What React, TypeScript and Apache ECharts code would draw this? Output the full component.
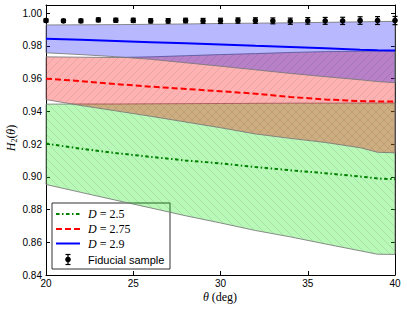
import React, { useEffect, useRef } from 'react';
import * as echarts from 'echarts';

// theta grid (deg) for the model curves
const thetaGrid = [20, 22, 24, 26, 28, 30, 32, 34, 36, 38, 39, 40];

// D = 2.9 (blue)
const blueUpper = [0.9928, 0.9929, 0.993, 0.9932, 0.9934, 0.9937, 0.9939, 0.9941, 0.9944, 0.9947, 0.9949, 0.995];
const blueMid = [0.9843, 0.9837, 0.983, 0.9823, 0.9816, 0.9809, 0.9801, 0.9794, 0.9786, 0.9776, 0.9773, 0.9772];
const blueLower = [0.9758, 0.9747, 0.9734, 0.9718, 0.9697, 0.9676, 0.9654, 0.9632, 0.9612, 0.9593, 0.9582, 0.9575];

// D = 2.75 (red)
const redUpper = [0.9733, 0.9731, 0.9729, 0.9733, 0.974, 0.9747, 0.9753, 0.976, 0.9765, 0.9767, 0.9768, 0.9768];
const redMid = [0.96, 0.9585, 0.9567, 0.9551, 0.9537, 0.9523, 0.9508, 0.9488, 0.9473, 0.9463, 0.9461, 0.946];
const redLower = [0.9472, 0.9436, 0.9403, 0.937, 0.9335, 0.93, 0.9262, 0.9235, 0.921, 0.9178, 0.915, 0.9147];

// D = 2.5 (green)
const greenUpper = [0.9444, 0.9445, 0.9445, 0.9446, 0.9447, 0.9448, 0.9449, 0.945, 0.945, 0.9451, 0.9451, 0.9451];
const greenMid = [0.9203, 0.9172, 0.9145, 0.9122, 0.91, 0.9082, 0.906, 0.904, 0.9022, 0.9002, 0.899, 0.8985];
const greenLower = [0.8953, 0.8905, 0.8857, 0.881, 0.8762, 0.8718, 0.8672, 0.8633, 0.859, 0.8548, 0.8527, 0.8526];

// Fiducial sample
const fidTheta = [20, 21, 22, 23, 24, 25, 26, 27, 28, 29, 30, 31, 32, 33, 34, 35, 36, 37, 38, 39, 40];
const fidH = [0.9955, 0.9953, 0.9953, 0.9959, 0.9957, 0.9956, 0.9953, 0.9953, 0.9955, 0.9953, 0.9953, 0.9955, 0.9955, 0.9953, 0.9951, 0.9953, 0.9953, 0.9953, 0.9955, 0.9955, 0.9955];
const fidErr = [0.001, 0.001, 0.0011, 0.0012, 0.0012, 0.0013, 0.0013, 0.0014, 0.0014, 0.0015, 0.0016, 0.0016, 0.0017, 0.0018, 0.0019, 0.002, 0.0021, 0.0022, 0.0023, 0.0024, 0.0025];

const legendLabels = ['2.5', '2.75', '2.9'];

const MATH = 'Liberation Serif';
const SANS = 'Liberation Sans';

function hatchPattern(fill: string, dirs: string[]) {
  const s = 8;
  const c = document.createElement('canvas');
  c.width = s;
  c.height = s;
  const ctx = c.getContext('2d')!;
  ctx.fillStyle = fill;
  ctx.fillRect(0, 0, s, s);
  ctx.strokeStyle = 'rgba(60,60,60,0.16)';
  ctx.lineWidth = 0.8;
  for (const d of dirs) {
    ctx.beginPath();
    for (const o of [-s, 0, s]) {
      if (d === '/') {
        ctx.moveTo(o, s);
        ctx.lineTo(o + s, 0);
      } else {
        ctx.moveTo(o, 0);
        ctx.lineTo(o + s, s);
      }
    }
    ctx.stroke();
  }
  return { image: c.toDataURL(), repeat: 'repeat', imageWidth: s, imageHeight: s };
}

function bandSeries(lower: number[], upper: number[], fill: any) {
  return {
    type: 'custom',
    coordinateSystem: 'cartesian2d',
    silent: true,
    z: 1,
    data: [[thetaGrid[0], lower[0]]],
    renderItem: (_p: any, api: any) => {
      const pts: number[][] = [];
      thetaGrid.forEach((x, i) => pts.push(api.coord([x, upper[i]])));
      for (let i = thetaGrid.length - 1; i >= 0; i--) pts.push(api.coord([thetaGrid[i], lower[i]]));
      return {
        type: 'polygon',
        shape: { points: pts },
        style: { fill, stroke: 'rgba(120,120,120,0.85)', lineWidth: 1 },
      };
    },
  };
}

function lineSeries(vals: number[], color: string, dash: any) {
  return {
    type: 'line',
    data: thetaGrid.map((x, i) => [x, vals[i]]),
    showSymbol: false,
    silent: true,
    z: 3,
    lineStyle: { color, width: 2, type: dash },
  };
}

export default function App() {
  const ref = useRef<HTMLDivElement>(null);
  useEffect(() => {
    if (!ref.current) return;
    const chart = echarts.init(ref.current, null, { renderer: 'svg' });
    const axisCommon = {
      type: 'value',
      axisLine: { onZero: false, lineStyle: { color: '#000', width: 1 } },
      axisTick: { inside: true, length: 4, lineStyle: { color: '#000', width: 1 } },
      splitLine: { show: false },
    };
    const richMath = {
      i: { fontFamily: MATH, fontStyle: 'italic', fontSize: 12, color: '#000' },
      n: { fontFamily: MATH, fontSize: 12, color: '#000' },
    };
    const legendX = 52, legendY = 203;
    const rowsY = [214, 229, 243.5, 259.5];
    const lineStyles = [
      { stroke: '#008000', lineDash: [3.5, 2.5, 1.5, 2.5] },
      { stroke: '#ff0000', lineDash: [6, 3] },
      { stroke: '#0000ff', lineDash: null },
    ];
    const legendChildren: any[] = [
      {
        type: 'rect',
        shape: { x: legendX, y: legendY, width: 118, height: 66 },
        style: { fill: '#fff', stroke: '#333', lineWidth: 1 },
      },
    ];
    legendLabels.forEach((lab, i) => {
      legendChildren.push({
        type: 'line',
        shape: { x1: 56, y1: rowsY[i], x2: 80, y2: rowsY[i] },
        style: { stroke: lineStyles[i].stroke, lineWidth: 2, lineDash: lineStyles[i].lineDash },
      });
      legendChildren.push({
        type: 'text',
        x: 88,
        y: rowsY[i],
        style: {
          text: '{i|D}{n| = ' + lab + '}',
          rich: richMath,
          verticalAlign: 'middle',
          align: 'left',
        },
      });
    });
    const ey = rowsY[3];
    legendChildren.push(
      { type: 'line', shape: { x1: 68, y1: ey - 5, x2: 68, y2: ey + 5 }, style: { stroke: '#000', lineWidth: 1.2 } },
      { type: 'line', shape: { x1: 65.5, y1: ey - 5, x2: 70.5, y2: ey - 5 }, style: { stroke: '#000', lineWidth: 1.2 } },
      { type: 'line', shape: { x1: 65.5, y1: ey + 5, x2: 70.5, y2: ey + 5 }, style: { stroke: '#000', lineWidth: 1.2 } },
      { type: 'circle', shape: { cx: 68, cy: ey, r: 2.8 }, style: { fill: '#000' } },
      {
        type: 'text',
        x: 88,
        y: ey,
        style: { text: 'Fiducial sample', fontFamily: SANS, fontSize: 11, fill: '#000', verticalAlign: 'middle', align: 'left' },
      }
    );

    const option: any = {
      animation: false,
      backgroundColor: '#fff',
      grid: { left: 46, right: 12, top: 5, bottom: 36, containLabel: false },
      xAxis: [
        {
          ...axisCommon,
          min: 20,
          max: 40,
          interval: 5,
          position: 'bottom',
          axisLabel: { color: '#000', fontSize: 10, fontFamily: SANS, margin: 3 },
        },
        {
          ...axisCommon,
          min: 20,
          max: 40,
          interval: 5,
          position: 'top',
          axisLabel: { show: false },
        },
      ],
      yAxis: [
        {
          ...axisCommon,
          min: 0.84,
          max: 1.005,
          interval: 0.02,
          position: 'left',
          axisLabel: {
            color: '#000',
            fontSize: 10,
            fontFamily: SANS,
            margin: 4,
            formatter: (v: number) => (Math.abs(v * 50 - Math.round(v * 50)) < 1e-6 ? v.toFixed(2) : ''),
          },
        },
        {
          ...axisCommon,
          min: 0.84,
          max: 1.005,
          interval: 0.02,
          position: 'right',
          axisLabel: { show: false },
        },
      ],
      series: [
        bandSeries(greenLower, greenUpper, hatchPattern('rgba(0,235,0,0.28)', ['\\'])),
        bandSeries(redLower, redUpper, hatchPattern('rgba(255,0,0,0.3)', ['/'])),
        bandSeries(blueLower, blueUpper, 'rgba(0,0,255,0.28)'),
        lineSeries(greenMid, '#008000', [3.5, 2.5, 1.5, 2.5]),
        lineSeries(redMid, '#ff0000', [6, 3]),
        lineSeries(blueMid, '#0000ff', 'solid'),
        {
          type: 'custom',
          coordinateSystem: 'cartesian2d',
          silent: true,
          z: 5,
          data: fidTheta.map((x, i) => [x, fidH[i], fidErr[i]]),
          encode: { x: 0, y: 1 },
          renderItem: (_p: any, api: any) => {
            const x = api.value(0), y = api.value(1), e = api.value(2);
            const p = api.coord([x, y]);
            const t = api.coord([x, y + e]);
            const b = api.coord([x, y - e]);
            const st = { stroke: '#000', lineWidth: 1.2 };
            return {
              type: 'group',
              children: [
                { type: 'line', shape: { x1: p[0], y1: t[1], x2: p[0], y2: b[1] }, style: st },
                { type: 'line', shape: { x1: p[0] - 2.5, y1: t[1], x2: p[0] + 2.5, y2: t[1] }, style: st },
                { type: 'line', shape: { x1: p[0] - 2.5, y1: b[1], x2: p[0] + 2.5, y2: b[1] }, style: st },
                { type: 'circle', shape: { cx: p[0], cy: p[1], r: 2.8 }, style: { fill: '#000' } },
              ],
            };
          },
        },
      ],
      graphic: [
        {
          type: 'text',
          x: 11,
          y: 138,
          rotation: Math.PI / 2,
          style: {
            text: '{i|H}{s|2}{n|(}{i|θ}{n|)}',
            align: 'center',
            verticalAlign: 'middle',
            rich: {
              i: { fontFamily: MATH, fontStyle: 'italic', fontSize: 12, lineHeight: 14, color: '#000' },
              n: { fontFamily: MATH, fontSize: 12, lineHeight: 14, color: '#000' },
              s: { fontFamily: MATH, fontSize: 8, lineHeight: 8, verticalAlign: 'bottom', color: '#000' },
            },
          },
        },
        {
          type: 'text',
          x: 220,
          y: 297,
          style: {
            text: '{i|θ}{n| (deg)}',
            align: 'center',
            verticalAlign: 'middle',
            rich: richMath,
          },
        },
        { type: 'group', children: legendChildren },
      ],
    };
    chart.setOption(option);
    return () => chart.dispose();
  }, []);
  return <div ref={ref} style={{ position: 'fixed', left: 0, top: 0, width: 407, height: 311, background: '#fff' }} />;
}
